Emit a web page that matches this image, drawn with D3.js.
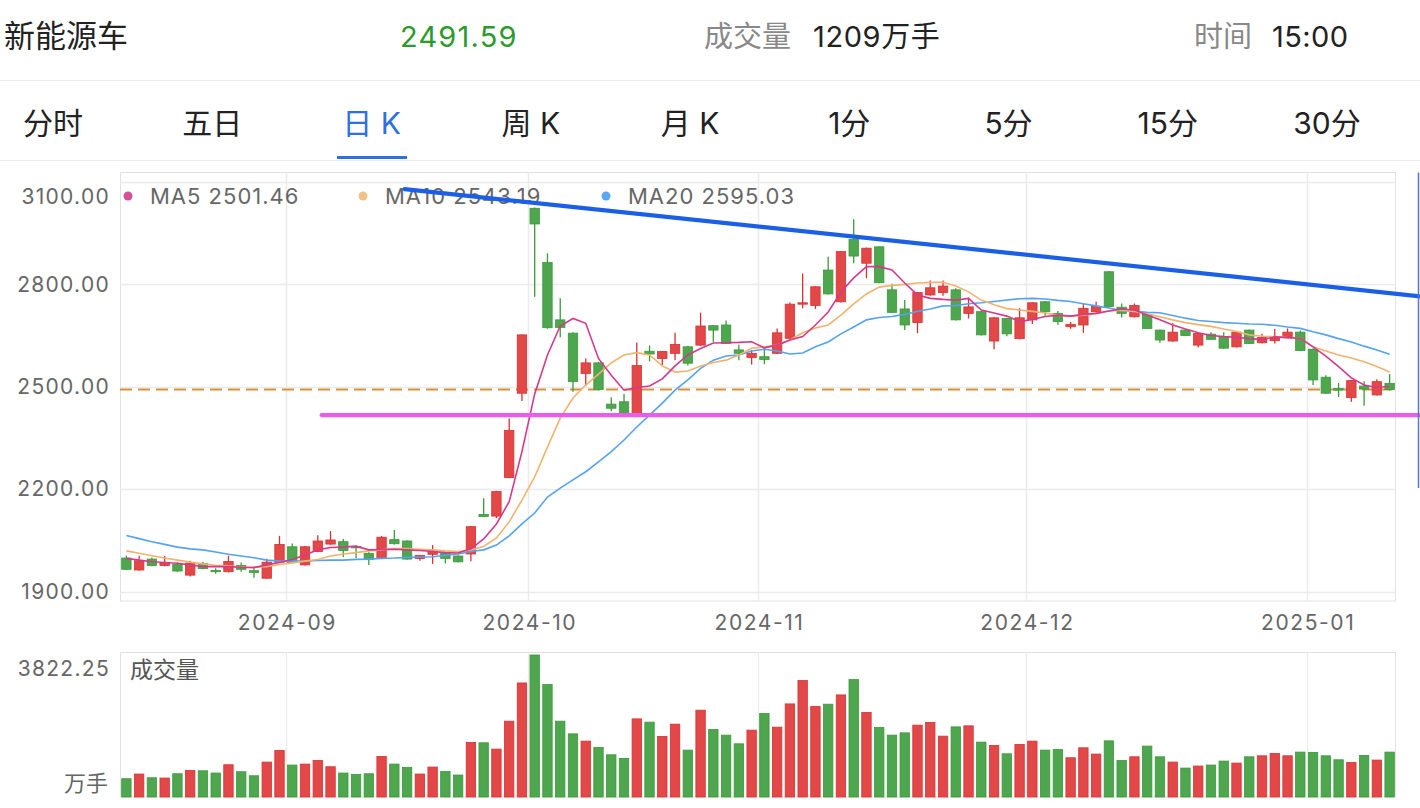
<!DOCTYPE html>
<html><head><meta charset="utf-8">
<script src="https://cdn.jsdelivr.net/npm/d3@7"></script>
<style>
body{margin:0;background:#fff;overflow:hidden;}
svg{display:block;font-family:Inter,"Noto Sans CJK SC",sans-serif;}
</style></head><body>
<svg id="c" width="1420" height="808"></svg>
<script>
// ---------------- DATA ----------------
const dates = [
"2024-08-14","2024-08-15","2024-08-16","2024-08-19","2024-08-20","2024-08-21","2024-08-22","2024-08-23","2024-08-26","2024-08-27","2024-08-28","2024-08-29","2024-08-30",
"2024-09-02","2024-09-03","2024-09-04","2024-09-05","2024-09-06","2024-09-09","2024-09-10","2024-09-11","2024-09-12","2024-09-13","2024-09-18","2024-09-19","2024-09-20","2024-09-23","2024-09-24","2024-09-25","2024-09-26","2024-09-27","2024-09-30",
"2024-10-08","2024-10-09","2024-10-10","2024-10-11","2024-10-14","2024-10-15","2024-10-16","2024-10-17","2024-10-18","2024-10-21","2024-10-22","2024-10-23","2024-10-24","2024-10-25","2024-10-28","2024-10-29","2024-10-30","2024-10-31",
"2024-11-01","2024-11-04","2024-11-05","2024-11-06","2024-11-07","2024-11-08","2024-11-11","2024-11-12","2024-11-13","2024-11-14","2024-11-15","2024-11-18","2024-11-19","2024-11-20","2024-11-21","2024-11-22","2024-11-25","2024-11-26","2024-11-27","2024-11-28","2024-11-29",
"2024-12-02","2024-12-03","2024-12-04","2024-12-05","2024-12-06","2024-12-09","2024-12-10","2024-12-11","2024-12-12","2024-12-13","2024-12-16","2024-12-17","2024-12-18","2024-12-19","2024-12-20","2024-12-23","2024-12-24","2024-12-25","2024-12-26","2024-12-27","2024-12-30","2024-12-31",
"2025-01-02","2025-01-03","2025-01-06","2025-01-07","2025-01-08","2025-01-09","2025-01-10"];

const opens = [1998,1963,1995,1976,1979,1948,1982,1962,1958,1976,1961,1939,1986,2031,1978,2017,2039,2046,2032,2012,
1999,2052,2048,1997,2009,2012,2004,2010,2126,2121,2234,2481,3023,2864,2696,2657,2539,2570,2449,2456,
2422,2604,2583,2598,2617,2622,2679,2681,2608,2586,2588,2598,2642,2742,2738,2842,2749,2932,2862,2910,
2784,2728,2688,2769,2776,2784,2715,2720,2634,2700,2641,2696,2749,2715,2676,2681,2720,2837,2733,2705,
2712,2666,2634,2666,2622,2654,2645,2617,2666,2629,2635,2647,2660,2610,2528,2495,2468,2502,2476,2510];
const highs = [2005,2005,2000,2005,1986,1990,1987,1968,2005,1985,1968,1996,2063,2041,2033,2065,2077,2054,2035,2015,
2063,2080,2050,2007,2036,2014,2006,2092,2173,2195,2407,2654,3025,2891,2759,2660,2583,2573,2469,2479,
2630,2621,2605,2658,2620,2717,2681,2694,2623,2608,2620,2671,2747,2832,2795,2881,2898,2991,2908,2912,
2802,2754,2778,2811,2811,2789,2761,2722,2704,2702,2730,2748,2751,2722,2690,2744,2749,2839,2744,2744,
2714,2668,2686,2668,2658,2660,2660,2662,2668,2655,2669,2671,2665,2612,2534,2511,2520,2516,2522,2537];
const lows = [1963,1961,1974,1974,1957,1944,1965,1952,1956,1958,1940,1937,1984,1983,1976,2015,2037,2001,1998,1978,
1997,2038,1993,1990,1981,1982,1985,1989,2119,2115,2232,2458,2764,2670,2645,2485,2502,2490,2428,2420,
2420,2574,2564,2578,2562,2620,2632,2625,2578,2565,2566,2596,2637,2730,2728,2770,2747,2862,2818,2803,
2716,2666,2657,2767,2767,2694,2700,2650,2610,2648,2639,2684,2708,2682,2670,2658,2717,2733,2703,2703,
2669,2629,2632,2648,2615,2637,2611,2615,2625,2627,2627,2645,2604,2505,2479,2470,2456,2444,2474,2489];
const closes = [1965,1990,1976,1982,1960,1983,1967,1958,1988,1965,1956,1986,2038,1985,2031,2048,2051,2020,2028,1994,
2059,2040,1995,2006,2019,1997,1987,2090,2120,2193,2372,2652,2977,2673,2674,2515,2570,2492,2437,2422,
2562,2596,2603,2624,2569,2678,2666,2627,2598,2598,2580,2658,2742,2746,2793,2772,2896,2883,2906,2805,
2718,2681,2776,2790,2795,2696,2734,2652,2702,2655,2702,2746,2720,2691,2683,2730,2735,2735,2715,2738,
2671,2637,2660,2650,2656,2639,2613,2660,2627,2644,2642,2660,2606,2520,2481,2490,2518,2493,2515,2491.59];
const volumes = [492,618,518,510,626,717,706,645,868,680,572,940,1254,860,886,986,814,645,610,626,
1093,886,798,618,806,690,591,1469,1459,1289,2041,3070,3822.25,3027,2041,1700,1504,1335,1136,1039,
2103,2015,1630,1961,1262,2337,1818,1665,1432,1800,2248,1880,2506,3135,2436,2498,2748,3161,2275,1872,
1665,1727,1934,2006,1638,1888,1915,1477,1389,1163,1416,1504,1262,1281,1056,1324,1155,1512,986,1082,
1370,1082,940,779,833,860,967,913,1082,1109,1174,1109,1209,1201,1109,1002,932,1120,994,1209];
const ma5 = [1997,1992,1987,1985,1983,1978,1973,1973,1973,1971,1970,1978,1985,1994,2007,2022,2029,2030,2033,2022,
2023,2024,2022,2020,2017,2014,2013,2025,2054,2098,2163,2310,2479,2593,2678,2700,2686,2583,2534,2490,
2498,2502,2523,2561,2593,2612,2628,2629,2630,2632,2614,2622,2637,2647,2681,2719,2778,2819,2852,2852,
2842,2804,2769,2759,2756,2754,2759,2725,2716,2707,2691,2697,2706,2710,2707,2712,2715,2722,2728,2725,
2710,2696,2681,2669,2658,2650,2647,2645,2641,2638,2646,2644,2642,2617,2590,2559,2526,2505,2498,2501.46];
const ma10 = [2019,2012,2005,1998,1992,1986,1981,1977,1975,1972,1971,1973,1979,1984,1989,1994,2004,2010,2014,2019,
2022,2026,2026,2024,2022,2019,2017,2022,2032,2057,2104,2168,2236,2323,2408,2467,2505,2537,2570,2593,
2600,2593,2561,2543,2546,2561,2571,2578,2593,2613,2617,2622,2637,2658,2672,2681,2710,2743,2772,2792,
2797,2800,2804,2806,2806,2795,2778,2754,2740,2729,2725,2721,2716,2710,2707,2710,2715,2722,2724,2721,
2713,2705,2696,2688,2682,2677,2669,2662,2652,2648,2647,2644,2642,2617,2605,2593,2584,2573,2559,2543.19];
const ma20 = [2064,2055,2046,2038,2030,2025,2022,2016,2009,2004,1999,1992,1989,1989,1989,1991,1992,1992,1994,1995,
1997,1998,2000,2001,2002,2006,2010,2017,2022,2036,2063,2098,2130,2177,2203,2227,2251,2280,2310,2344,
2382,2417,2452,2490,2520,2554,2578,2590,2593,2605,2610,2605,2596,2599,2617,2631,2655,2675,2696,2703,
2706,2712,2721,2728,2737,2738,2743,2746,2750,2754,2758,2759,2757,2753,2750,2743,2737,2731,2723,2721,
2718,2717,2709,2701,2694,2691,2688,2686,2684,2683,2680,2675,2671,2661,2652,2641,2631,2619,2608,2595.03];

const priceTicks = [1900, 2200, 2500, 2800, 3100];
const monthTickDates = ["2024-09-02","2024-10-08","2024-11-01","2024-12-02","2025-01-02"];
const monthTickLabels = ["2024-09","2024-10","2024-11","2024-12","2025-01"];
const tabs = ["分时","五日","日 K","周 K","月 K","1分","5分","15分","30分"];
const maNames = ["MA5","MA10","MA20"];
const maLast = ["2501.46","2543.19","2595.03"];
const lastPrice = 2491.59;
const volMax = 3822.25;
// hand-drawn annotations (position in candle units, price)
const trendLine = [[22.3, 3079], [101.9, 2765]];
const supportLine = [[15.8, 2417], [101.9, 2417]];

// ---------------- STYLE ----------------
const RED = "#e34848", RED_S = "#d93030", GREEN = "#4ea64e", GREEN_S = "#3a9a3a";
const MA_COL = ["#d6398c", "#f0b36e", "#55a2f0"];
const DOT_COL = ["#d4509a", "#f0c286", "#5aa8f5"];
const GRID = "#ebebeb", FRAME = "#e2e2e2", LABEL = "#666";

const svg = d3.select("#c");
const n = dates.length;
const L = 120, R = 1396;

const x = d3.scaleBand().domain(dates).range([L, R]).paddingInner(0).paddingOuter(0);
const pos = d3.scaleLinear().domain([0, n]).range([L, R]);
const cx = i => pos(i + 0.5);
const y = d3.scaleLinear().domain([1900, 3100]).range([591.5, 182]);
const yv = d3.scaleLinear().domain([0, volMax]).range([797, 655]);

// ---------------- HEADER ----------------
const hdr = svg.append("g").style("font-size", "29px");
hdr.append("text").attr("x", 4).attr("y", 47).attr("fill", "#222").style("font-size", "31px").text("新能源车");
hdr.append("text").attr("x", 400).attr("y", 47).attr("fill", "#2c9a2c").style("letter-spacing", "1.2px").text(d3.format(".2f")(lastPrice));
hdr.append("text").attr("x", 704).attr("y", 47).attr("fill", "#888").text("成交量");
hdr.append("text").attr("x", 813).attr("y", 47).attr("fill", "#222").style("letter-spacing", "0.6px").text(volumes[n-1] + "万手");
hdr.append("text").attr("x", 1194).attr("y", 47).attr("fill", "#888").text("时间");
hdr.append("text").attr("x", 1272).attr("y", 47).attr("fill", "#222").style("letter-spacing", "0.4px").text("15:00");
svg.append("line").attr("x1", 0).attr("x2", 1420).attr("y1", 80.5).attr("y2", 80.5).attr("stroke", "#ececec");

const tabG = svg.append("g").style("font-size", "30px").attr("text-anchor", "middle");
tabs.forEach((t, i) => {
  tabG.append("text").attr("x", 53 + i * 159.25).attr("y", 134)
    .attr("fill", i === 2 ? "#2f6fe0" : "#222").text(t);
});
svg.append("rect").attr("x", 337).attr("y", 156).attr("width", 70).attr("height", 3).attr("fill", "#2f6fe0");
svg.append("line").attr("x1", 0).attr("x2", 1420).attr("y1", 160.5).attr("y2", 160.5).attr("stroke", "#ececec");

// ---------------- MAIN CHART ----------------
const main = svg.append("g");
main.append("rect").attr("x", L + 0.5).attr("y", 172.5).attr("width", R - L - 1).attr("height", 601 - 172.5)
  .attr("fill", "none").attr("stroke", FRAME);
main.selectAll(".hg").data(priceTicks).join("line")
  .attr("x1", L).attr("x2", R).attr("y1", d => Math.round(y(d)) + 0.5).attr("y2", d => Math.round(y(d)) + 0.5)
  .attr("stroke", GRID).attr("stroke-width", 1.5);
main.selectAll(".vg").data(monthTickDates).join("line")
  .attr("x1", d => Math.round(x(d)) + 0.5).attr("x2", d => Math.round(x(d)) + 0.5)
  .attr("y1", 172.5).attr("y2", 601).attr("stroke", GRID).attr("stroke-width", 1.5);
main.selectAll(".yl").data(priceTicks).join("text")
  .attr("x", 110).attr("y", d => d === 3100 ? y(d) + 15 : y(d))
  .attr("dy", "0.35em").attr("text-anchor", "end").attr("fill", LABEL)
  .style("font-size", "21px").style("letter-spacing", "1.3px")
  .text(d => d3.format(".2f")(d));
main.selectAll(".xl").data(monthTickDates).join("text")
  .attr("x", d => x(d) + 1.5).attr("y", 623).attr("dy", "0.35em").attr("text-anchor", "middle")
  .attr("fill", LABEL).style("font-size", "21px").style("letter-spacing", "1.6px")
  .text((d, i) => monthTickLabels[i]);

main.append("line").attr("x1", L).attr("x2", R).attr("y1", y(lastPrice)).attr("y2", y(lastPrice))
  .attr("stroke", "#d8923e").attr("stroke-width", 2).attr("stroke-dasharray", "12,6");

// candles
const idx = d3.range(n);
const up = i => closes[i] >= opens[i];
const cg = main.append("g");
cg.selectAll(".wick").data(idx).join("line")
  .attr("x1", i => cx(i)).attr("x2", i => cx(i))
  .attr("y1", i => y(highs[i])).attr("y2", i => y(lows[i]))
  .attr("stroke", i => up(i) ? RED_S : GREEN_S).attr("stroke-width", 1.3);
const bw = 9.4;
cg.selectAll(".body").data(idx).join("rect")
  .attr("x", i => cx(i) - bw / 2).attr("width", bw)
  .attr("y", i => y(Math.max(opens[i], closes[i])))
  .attr("height", i => Math.max(1.2, Math.abs(y(opens[i]) - y(closes[i]))))
  .attr("fill", i => up(i) ? RED : GREEN).attr("stroke", i => up(i) ? RED_S : GREEN_S).attr("stroke-width", 0.8);

[ma20, ma10, ma5].forEach((arr, k) => {
  main.append("path").datum(arr)
    .attr("d", d3.line().x((d, i) => cx(i)).y(d => y(d)))
    .attr("fill", "none").attr("stroke", MA_COL[2 - k]).attr("stroke-width", 1.6);
});

// legend
const legX = [128, 363, 606];
maNames.forEach((m, k) => {
  main.append("circle").attr("cx", legX[k]).attr("cy", 196).attr("r", 4.5).attr("fill", DOT_COL[k]);
  main.append("text").attr("x", legX[k] + 22).attr("y", 196).attr("dy", "0.35em")
    .attr("fill", LABEL).style("font-size", "22px").style("letter-spacing", "1px")
    .text(m + " " + maLast[k]);
});

// annotations
const annot = svg.append("g");
annot.append("line")
  .attr("x1", pos(trendLine[0][0])).attr("y1", y(trendLine[0][1]))
  .attr("x2", pos(trendLine[1][0])).attr("y2", y(trendLine[1][1]))
  .attr("stroke", "#1a5fe6").attr("stroke-width", 4.2).attr("stroke-linecap", "round");
annot.append("line")
  .attr("x1", pos(supportLine[0][0])).attr("y1", y(supportLine[0][1]))
  .attr("x2", pos(supportLine[1][0])).attr("y2", y(supportLine[1][1]))
  .attr("stroke", "#ea5cec").attr("stroke-width", 4.2).attr("stroke-linecap", "round");
svg.append("path").attr("d", "M1418.5,172.5 L1418.5,488")
  .attr("stroke", "#5577cc").attr("stroke-width", 1.5).attr("fill", "none");

// ---------------- VOLUME ----------------
const vol = svg.append("g");
vol.append("rect").attr("x", L + 0.5).attr("y", 652.5).attr("width", R - L - 1).attr("height", 797 - 652.5)
  .attr("fill", "none").attr("stroke", FRAME);
vol.selectAll(".vvg").data(monthTickDates).join("line")
  .attr("x1", d => Math.round(x(d)) + 0.5).attr("x2", d => Math.round(x(d)) + 0.5)
  .attr("y1", 652.5).attr("y2", 797).attr("stroke", GRID).attr("stroke-width", 1.2);
vol.selectAll(".vb").data(idx).join("rect")
  .attr("x", i => cx(i) - bw / 2).attr("width", bw)
  .attr("y", i => yv(volumes[i])).attr("height", i => yv(0) - yv(volumes[i]))
  .attr("fill", i => up(i) ? RED : GREEN).attr("stroke", i => up(i) ? RED_S : GREEN_S).attr("stroke-width", 0.8);
vol.append("text").attr("x", 110).attr("y", 669).attr("dy", "0.35em").attr("text-anchor", "end")
  .attr("fill", LABEL).style("font-size", "21px").style("letter-spacing", "1.3px").text(d3.format(".2f")(volMax));
vol.append("text").attr("x", 108).attr("y", 783).attr("dy", "0.35em").attr("text-anchor", "end")
  .attr("fill", LABEL).style("font-size", "22px").text("万手");
vol.append("text").attr("x", 130).attr("y", 670).attr("dy", "0.35em")
  .attr("fill", "#555").style("font-size", "23px").text("成交量");
</script>
</body></html>
